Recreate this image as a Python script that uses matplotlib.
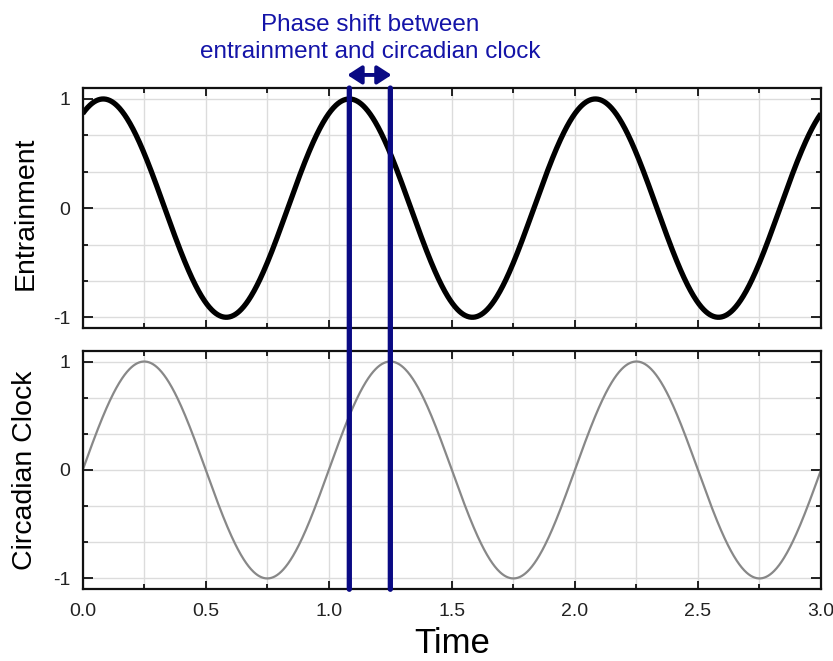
import numpy as np
import matplotlib
matplotlib.use('Agg')
import matplotlib.pyplot as plt
from matplotlib.patches import ConnectionPatch
from matplotlib.ticker import MultipleLocator

plt.rcParams['font.family'] = ['Liberation Sans', 'DejaVu Sans']

# --- signal parameters ---
PERIOD = 1.0            # both rhythms share a period of 1 time unit
ENTRAIN_PEAK = 1.0 / 12  # first entrainment maximum
CLOCK_PEAK = 0.25        # first circadian clock maximum
T_RANGE = (0.0, 3.0)

# phase shift markers (entrainment peak / clock peak in second cycle)
SHIFT_X = [ENTRAIN_PEAK + PERIOD, CLOCK_PEAK + PERIOD]

t = np.linspace(T_RANGE[0], T_RANGE[1], 1500)
entrain = np.cos(2 * np.pi * (t - ENTRAIN_PEAK) / PERIOD)
clock = np.cos(2 * np.pi * (t - CLOCK_PEAK) / PERIOD)

NAVY = '#0a0a84'
TEXT_BLUE = '#1414a8'

fig = plt.figure(figsize=(8.33, 6.61), dpi=100)
ax1 = fig.add_axes([0.0993, 0.5035, 0.8863, 0.3633])
ax2 = fig.add_axes([0.0993, 0.1085, 0.8863, 0.3610])


def style(ax):
    ax.set_xlim(*T_RANGE)
    ax.set_ylim(-1.1, 1.1)
    ax.xaxis.set_major_locator(MultipleLocator(0.5))
    ax.xaxis.set_minor_locator(MultipleLocator(0.25))
    ax.set_yticks([-1, 0, 1])
    ax.set_yticks([-2 / 3, -1 / 3, 1 / 3, 2 / 3], minor=True)
    ax.set_yticklabels(['-1', '0', '1'])
    ax.grid(True, which='both', color='#dcdcdc', linewidth=1.0)
    ax.set_axisbelow(True)
    ax.tick_params(which='both', direction='in', top=True, right=True,
                   width=1.3, colors='#111111', labelcolor='#222222', labelsize=14)
    ax.tick_params(axis='x', which='major', length=6, pad=10)
    ax.tick_params(axis='x', which='minor', length=3.5)
    ax.tick_params(axis='y', which='major', length=7.5, pad=9)
    ax.tick_params(axis='y', which='minor', length=3.5)
    for s in ax.spines.values():
        s.set_linewidth(1.6)
        s.set_color('#111111')


style(ax1)
style(ax2)

ax1.plot(t, entrain, color='black', linewidth=3.8, solid_capstyle='butt')
ax2.plot(t, clock, color='#888888', linewidth=1.6)

ax1.tick_params(axis='x', labelbottom=False)
ax2.set_xticks(np.arange(0, 3.01, 0.5))
ax2.set_xticklabels([f'{v:.1f}' for v in np.arange(0, 3.01, 0.5)])

ax1.set_ylabel('Entrainment', fontsize=20.5)
ax2.set_ylabel('Circadian Clock', fontsize=20.5)
ax2.set_xlabel('Time', fontsize=25, labelpad=5)
ax1.yaxis.set_label_coords(-0.06, 0.48)
ax2.yaxis.set_label_coords(-0.06, 0.5)

# vertical markers running through both panels
for x in SHIFT_X:
    con = ConnectionPatch(xyA=(x, -1.1), coordsA=ax2.transData,
                          xyB=(x, 1.1), coordsB=ax1.transData,
                          color=NAVY, linewidth=3.8, zorder=10)
    fig.add_artist(con)

# double arrow showing the shift
ax1.annotate('', xy=(SHIFT_X[0] - 0.008, 1.22), xytext=(SHIFT_X[1] + 0.005, 1.22),
             xycoords='data', annotation_clip=False,
             arrowprops=dict(arrowstyle='<|-|>,head_length=0.85,head_width=0.55',
                             color=NAVY, linewidth=2.8, shrinkA=0, shrinkB=0))

ax1.text(np.mean(SHIFT_X), 1.33, 'Phase shift between\nentrainment and circadian clock',
         ha='center', va='bottom', fontsize=17.5, color=TEXT_BLUE,
         linespacing=1.3, clip_on=False)

fig.savefig('out.png', dpi=100)
